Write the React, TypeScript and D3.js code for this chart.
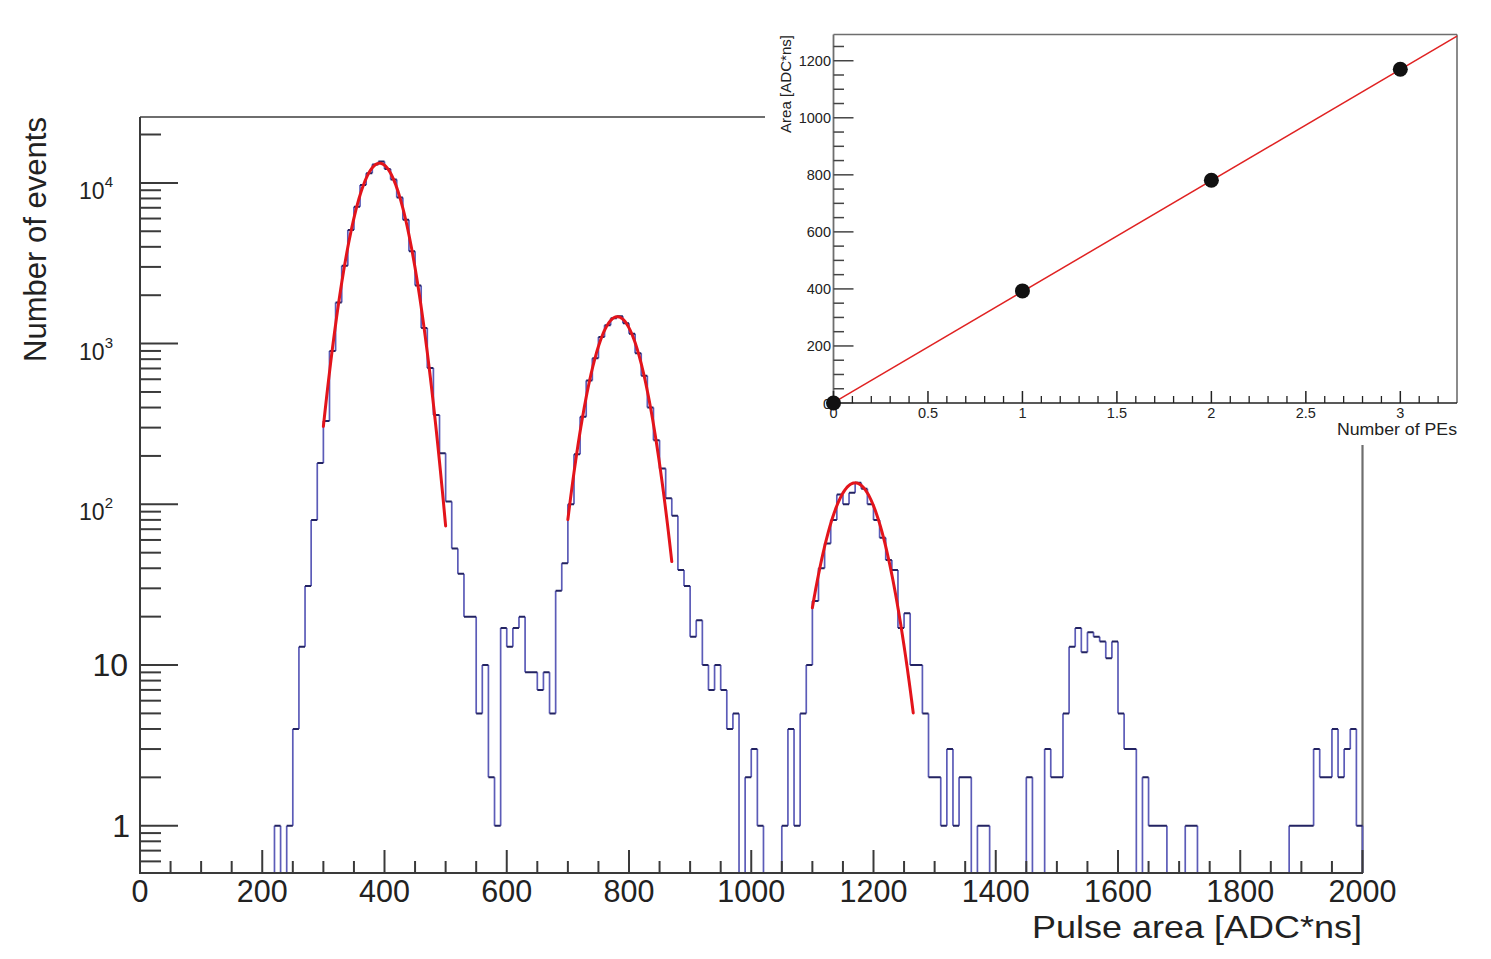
import React from 'react';
import * as d3 from 'd3';

// ---------------- DATA ----------------
// Pulse area histogram, bins of 10 ADC*ns from 0 to 2000 (200 bins)
const binStart = 0;
const binWidth = 10;
const counts: number[] = [
  0, 0, 0, 0, 0, 0, 0, 0, 0, 0,
  0, 0, 0, 0, 0, 0, 0, 0, 0, 0,
  0, 0, 1, 0, 1, 4, 13, 31, 80, 181,
  330, 900, 1800, 3050, 5100, 7100, 9700, 11500, 13000, 13600,
  12200, 10500, 8100, 5900, 3750, 2300, 1250, 705, 360, 208,
  104, 53, 37, 20, 20, 5, 10, 2, 1, 17,
  13, 17, 20, 9, 9, 7, 9, 5, 29, 43,
  100, 205, 350, 590, 810, 1100, 1300, 1440, 1480, 1340,
  1150, 870, 630, 400, 250, 167, 109, 85, 39, 31,
  15, 19, 10, 7, 10, 7, 4, 5, 0, 2,
  3, 1, 0, 0, 0, 1, 4, 1, 5, 10,
  25, 40, 57, 80, 115, 100, 118, 136, 125, 100,
  80, 62, 45, 39, 17, 21, 10, 10, 5, 2,
  2, 1, 3, 1, 2, 2, 0, 1, 1, 0,
  0, 0, 0, 0, 0, 2, 0, 0, 3, 2,
  2, 5, 13, 17, 12, 16, 15, 14, 11, 14,
  5, 3, 3, 0, 2, 1, 1, 1, 0, 0,
  0, 1, 1, 0, 0, 0, 0, 0, 0, 0,
  0, 0, 0, 0, 0, 0, 0, 0, 1, 1,
  1, 1, 3, 2, 2, 4, 2, 3, 4, 1,
];

// Gaussian fits (constant, mean, sigma, range)
const fitConstant = [13250, 1470, 136];
const fitMean = [392, 781, 1170];
const fitSigma = [33.5, 33.6, 37];
const fitLow = [300, 700, 1100];
const fitHigh = [500, 870, 1265];

// main axes
const xDomain = [0, 2000];
const yDomain = [0.508, 25700];
const xTickValues = [0, 200, 400, 600, 800, 1000, 1200, 1400, 1600, 1800, 2000];
const yMajorTicks = [1, 10, 100, 1000, 10000];
const yPowerLabels = ['', '', '2', '3', '4'];
const xTitle = 'Pulse area [ADC*ns]';
const yTitle = 'Number of events';

// inset: peak positions vs number of PEs
const peNumbers = [0, 1, 2, 3];
const peAreas = [0, 393, 781, 1170];
const linFit = [1, 389.5]; // intercept, slope
const insetXDomain = [0, 3.3];
const insetYDomain = [0, 1292];
const insetXTicks = [0, 0.5, 1, 1.5, 2, 2.5, 3];
const insetXTickLabels = ['0', '0.5', '1', '1.5', '2', '2.5', '3'];
const insetYTicks = [0, 200, 400, 600, 800, 1000, 1200];
const insetXTitle = 'Number of PEs';
const insetYTitle = 'Area [ADC*ns]';

// ---------------- LAYOUT ----------------
const W = 1491;
const H = 959;
const FONT = '"Liberation Sans", Arial, Helvetica, sans-serif';

export default function App() {
  const x = d3.scaleLinear().domain(xDomain).range([140, 1362.5]);
  const y = d3.scaleLog().domain(yDomain).range([873, 117]);
  const yMin = yDomain[0];
  const yv = (v: number) => y(Math.max(v, yMin));

  // histogram segments
  const hSegs: string[] = [];
  const vSegs: string[] = [];
  let prev = yMin;
  counts.forEach((c, i) => {
    const x0 = x(binStart + i * binWidth);
    const x1 = x(binStart + (i + 1) * binWidth);
    const val = Math.max(c, yMin);
    if (val !== prev) vSegs.push(`M${x0},${yv(prev)}L${x0},${yv(val)}`);
    hSegs.push(`M${x0},${yv(val)}L${x1},${yv(val)}`);
    prev = val;
  });
  const xEnd = x(binStart + counts.length * binWidth);
  if (prev !== yMin) vSegs.push(`M${xEnd},${yv(prev)}L${xEnd},${yv(yMin)}`);

  // fit curves
  const fitLine = d3
    .line<number[]>()
    .x((d) => x(d[0]))
    .y((d) => y(d[1]));
  const fitPaths = fitConstant.map((A, k) => {
    const n = 120;
    const pts: number[][] = d3.range(n + 1).map((j) => {
      const xv = fitLow[k] + ((fitHigh[k] - fitLow[k]) * j) / n;
      const z = (xv - fitMean[k]) / fitSigma[k];
      return [xv, A * Math.exp(-0.5 * z * z)];
    });
    return fitLine(pts) as string;
  });

  // y minor ticks
  const yMinor: number[] = [];
  for (let d = 0.1; d <= 10000; d *= 10) {
    for (let k = 2; k <= 9; k++) {
      const v = Math.round(d * k * 1000) / 1000;
      if (v >= yDomain[0] && v <= yDomain[1]) yMinor.push(v);
    }
  }
  const xMinor = d3.range(0, 2001, 50).filter((v) => v % 200 !== 0);

  // inset scales
  const ix = d3.scaleLinear().domain(insetXDomain).range([833.5, 1457]);
  const iy = d3.scaleLinear().domain(insetYDomain).range([403, 34.5]);
  const insetYMinor = d3.range(0, 1292, 50).filter((v) => v % 200 !== 0);
  const insetXMinor = d3.range(0, 33).map((i) => i / 10).filter((v) => Math.abs(v * 2 - Math.round(v * 2)) > 1e-6);
  const linePts: number[][] = [insetXDomain[0], insetXDomain[1]].map((p) => [p, linFit[0] + linFit[1] * p]);
  const insetLine = d3
    .line<number[]>()
    .x((d) => ix(d[0]))
    .y((d) => iy(d[1]))(linePts) as string;

  const axisColor = '#3a3a3a';
  const frameColor = '#6e6e6e';

  return (
    <svg
      width={W}
      height={H}
      viewBox={`0 0 ${W} ${H}`}
      style={{ position: 'absolute', left: 0, top: 0, background: '#fff' }}
      fontFamily={FONT}
    >
      <rect x={0} y={0} width={W} height={H} fill="#fff" />

      {/* main frame */}
      <line x1={140} y1={117} x2={1362.5} y2={117} stroke={frameColor} strokeWidth={2} />
      <line x1={1362.5} y1={117} x2={1362.5} y2={873} stroke={frameColor} strokeWidth={2.2} />

      {/* histogram */}
      <path d={vSegs.join('')} fill="none" stroke="#5c5cb8" strokeWidth={1.7} />
      <path d={hSegs.join('')} fill="none" stroke="#232362" strokeWidth={2} />

      {/* fits */}
      {fitPaths.map((p, i) => (
        <path key={i} d={p} fill="none" stroke="#e3141b" strokeWidth={3} strokeLinecap="round" />
      ))}

      {/* axes */}
      <line x1={140} y1={117} x2={140} y2={874} stroke={axisColor} strokeWidth={2} />
      <line x1={139} y1={873} x2={1363} y2={873} stroke={axisColor} strokeWidth={2} />

      {/* y ticks */}
      {yMajorTicks.map((v) => (
        <line key={'ym' + v} x1={140} x2={178} y1={y(v)} y2={y(v)} stroke={axisColor} strokeWidth={2} />
      ))}
      {yMinor.map((v) => (
        <line key={'yn' + v} x1={140} x2={161} y1={y(v)} y2={y(v)} stroke={axisColor} strokeWidth={2} />
      ))}
      {/* x ticks */}
      {xTickValues.map((v) => (
        <line key={'xm' + v} x1={x(v)} x2={x(v)} y1={873} y2={850} stroke={axisColor} strokeWidth={2} />
      ))}
      {xMinor.map((v) => (
        <line key={'xn' + v} x1={x(v)} x2={x(v)} y1={873} y2={861} stroke={axisColor} strokeWidth={2} />
      ))}

      {/* y tick labels */}
      {yMajorTicks.map((v, i) =>
        yPowerLabels[i] ? (
          <text key={'yl' + v} x={113} y={y(v) + 16} textAnchor="end" fontSize={23} fill="#222">
            10
            <tspan dy={-12} fontSize={15}>
              {yPowerLabels[i]}
            </tspan>
          </text>
        ) : (
          <text key={'yl' + v} x={v === 1 ? 130 : 128} y={y(v) + 11} textAnchor="end" fontSize={32} fill="#222">
            {String(v)}
          </text>
        )
      )}

      {/* x tick labels */}
      {xTickValues.map((v) => (
        <text key={'xl' + v} x={x(v)} y={902} textAnchor="middle" fontSize={30.5} fill="#222">
          {String(v)}
        </text>
      ))}

      {/* titles */}
      <text x={1362} y={938} textAnchor="end" fontSize={32} fill="#222" textLength={330} lengthAdjust="spacingAndGlyphs">
        {xTitle}
      </text>
      <text
        transform="translate(46,117) rotate(-90)"
        x={0}
        y={0}
        textAnchor="end"
        fontSize={32}
        fill="#222"
        textLength={245}
        lengthAdjust="spacingAndGlyphs"
      >
        {yTitle}
      </text>

      {/* ---------- inset ---------- */}
      <rect x={765} y={0} width={W - 765} height={445} fill="#fff" />
      {/* frame */}
      <line x1={833.5} y1={34.5} x2={1457} y2={34.5} stroke={frameColor} strokeWidth={1.6} />
      <line x1={1457} y1={34.5} x2={1457} y2={403} stroke={frameColor} strokeWidth={1.6} />
      <line x1={833.5} y1={34.5} x2={833.5} y2={403} stroke={frameColor} strokeWidth={1.8} />
      <line x1={833.5} y1={403} x2={1457} y2={403} stroke="#222" strokeWidth={1.6} />

      {insetYTicks.map((v) => (
        <line key={'iym' + v} x1={833.5} x2={853.5} y1={iy(v)} y2={iy(v)} stroke="#444" strokeWidth={1.5} />
      ))}
      {insetYMinor.map((v) => (
        <line key={'iyn' + v} x1={833.5} x2={844} y1={iy(v)} y2={iy(v)} stroke="#444" strokeWidth={1.5} />
      ))}
      {insetXTicks.map((v) => (
        <line key={'ixm' + v} x1={ix(v)} x2={ix(v)} y1={403} y2={391} stroke="#222" strokeWidth={1.5} />
      ))}
      {insetXMinor.map((v) => (
        <line key={'ixn' + v} x1={ix(v)} x2={ix(v)} y1={403} y2={396} stroke="#222" strokeWidth={1.3} />
      ))}

      {insetYTicks.map((v) => (
        <text key={'iyl' + v} x={831} y={iy(v) + 5.5} textAnchor="end" fontSize={14.5} fill="#222">
          {String(v)}
        </text>
      ))}
      {insetXTicks.map((v, i) => (
        <text key={'ixl' + v} x={ix(v)} y={418} textAnchor="middle" fontSize={14.5} fill="#222">
          {insetXTickLabels[i]}
        </text>
      ))}

      <text x={1457} y={435} textAnchor="end" fontSize={16} fill="#222" textLength={120} lengthAdjust="spacingAndGlyphs">
        {insetXTitle}
      </text>
      <text
        transform="translate(791,35) rotate(-90)"
        textAnchor="end"
        fontSize={15}
        fill="#222"
        textLength={98}
        lengthAdjust="spacingAndGlyphs"
      >
        {insetYTitle}
      </text>

      <path d={insetLine} fill="none" stroke="#e02222" strokeWidth={1.5} />
      {peNumbers.map((p, i) => (
        <circle key={'pt' + i} cx={ix(p)} cy={iy(peAreas[i])} r={7.5} fill="#111" />
      ))}
    </svg>
  );
}
